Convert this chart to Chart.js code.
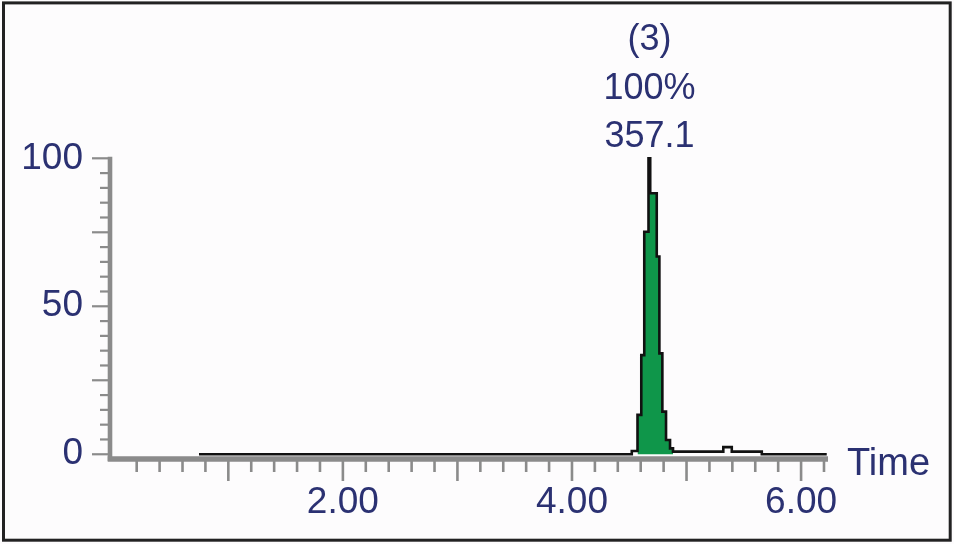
<!DOCTYPE html>
<html>
<head>
<meta charset="utf-8">
<script src="https://cdn.jsdelivr.net/npm/chart.js@4"></script>
<style>
  html, body { margin: 0; padding: 0; background: #fdfcfd; }
  canvas { display: block; }
</style>
</head>
<body>
<canvas id="c" width="954" height="544"></canvas>
<script>
// Retention time (min) at the left edge of each step of the trace
const times = [0.744, 4.522, 4.572, 4.605, 4.631, 4.668, 4.683, 4.740, 4.763, 4.789, 4.821, 4.856, 4.882, 5.321, 5.395, 5.657, 6.224];
// Relative intensity (%) held over each step
const intensity = [0, 1.1, 13.3, 33.5, 75.2, 100, 88.2, 66.8, 34.1, 14.4, 4.8, 2.0, 0.9, 2.4, 0.9, 0, 0];
// Integrated peak (filled) runs from this step index to this one
const peakFirst = 2;
const peakLast = 12;
// Peak annotation lines
const peakLabels = ['(3)', '100%', '357.1'];
// Axis ticks and labels
const yTickValues = [0, 5, 10, 15, 20, 25, 30, 35, 40, 45, 50, 55, 60, 65, 70, 75, 80, 85, 90, 95, 100];
const yLabelled = [0, 50, 100];
const xTickValues = [0.2, 0.4, 0.6, 0.8, 1.0, 1.2, 1.4, 1.6, 1.8, 2.0, 2.2, 2.4, 2.6, 2.8, 3.0, 3.2, 3.4, 3.6, 3.8, 4.0, 4.2, 4.4, 4.6, 4.8, 5.0, 5.2, 5.4, 5.6, 5.8, 6.0, 6.2];
const xLabelled = [2, 4, 6];
const xAxisTitle = 'Time';

const NAVY = '#2b3172';
const GRAY = '#8b8b8b';
const FONT = '"Liberation Sans", Arial, sans-serif';

const tracePoints = times.map((t, i) => ({ x: t, y: intensity[i] }));
const peakPoints = tracePoints.slice(peakFirst, peakLast + 1);

const decorPlugin = {
  id: 'decor',
  beforeDraw(chart) {
    const ctx = chart.ctx;
    ctx.save();
    ctx.fillStyle = '#fdfcfd';
    ctx.fillRect(0, 0, chart.width, chart.height);
    ctx.restore();
  },
  beforeDatasetsDraw(chart) {
    const { ctx, chartArea, scales } = chart;
    const x = scales.x, y = scales.y;
    ctx.save();
    ctx.strokeStyle = GRAY;
    ctx.lineCap = 'butt';
    // y tick marks
    ctx.lineWidth = 2.2;
    y.ticks.forEach(t => {
      const py = y.getPixelForValue(t.value);
      const len = (t.value % 25 === 0) ? 18 : 10;
      ctx.beginPath();
      ctx.moveTo(chartArea.left - len, py);
      ctx.lineTo(chartArea.left, py);
      ctx.stroke();
    });
    // x tick marks
    ctx.lineWidth = 2.6;
    x.ticks.forEach(t => {
      const px = x.getPixelForValue(t.value);
      const major = Math.abs(t.value - Math.round(t.value)) < 1e-6;
      const len = major ? 22 : 13;
      ctx.beginPath();
      ctx.moveTo(px, chartArea.bottom);
      ctx.lineTo(px, chartArea.bottom + len);
      ctx.stroke();
    });
    // y axis line
    ctx.lineWidth = 4.6;
    ctx.beginPath();
    ctx.moveTo(chartArea.left, y.getPixelForValue(100) - 1.5);
    ctx.lineTo(chartArea.left, chartArea.bottom + 2);
    ctx.stroke();
    // x axis line
    ctx.lineWidth = 5.6;
    ctx.beginPath();
    ctx.moveTo(chartArea.left - 2.3, chartArea.bottom);
    ctx.lineTo(chartArea.right, chartArea.bottom);
    ctx.stroke();
    ctx.restore();
  },
  afterDraw(chart) {
    const { ctx, chartArea, scales } = chart;
    const x = scales.x;
    ctx.save();
    // axis title
    ctx.fillStyle = NAVY;
    ctx.font = '38px ' + FONT;
    ctx.textAlign = 'left';
    ctx.textBaseline = 'alphabetic';
    ctx.fillText(xAxisTitle, 847, 475);
    // peak annotation
    let iMax = 0;
    intensity.forEach((v, i) => { if (v > intensity[iMax]) iMax = i; });
    const pxPeak = x.getPixelForValue(times[iMax]) + 1;
    ctx.font = '36px ' + FONT;
    ctx.textAlign = 'center';
    const baselines = [chartArea.top - 108.5, chartArea.top - 59.5, chartArea.top - 11.8];
    peakLabels.forEach((s, i) => ctx.fillText(s, pxPeak, baselines[i]));
    // outer frame
    ctx.strokeStyle = '#222222';
    ctx.lineWidth = 3;
    ctx.strokeRect(3.5, 2.9, 946.7, 537.3);
    ctx.restore();
  }
};

new Chart(document.getElementById('c'), {
  type: 'line',
  data: {
    datasets: [
      {
        label: 'trace',
        data: tracePoints,
        stepped: 'before',
        borderColor: '#111111',
        borderWidth: 2.6,
        borderJoinStyle: 'miter',
        borderCapStyle: 'butt',
        pointRadius: 0,
        fill: false,
        clip: false,
        order: 0
      },
      {
        label: 'peak',
        data: peakPoints,
        stepped: 'before',
        borderWidth: 0,
        borderColor: 'rgba(0,0,0,0)',
        backgroundColor: '#0f964a',
        pointRadius: 0,
        fill: 'origin',
        order: 1
      }
    ]
  },
  options: {
    responsive: false,
    devicePixelRatio: 1,
    animation: false,
    events: [],
    layout: { padding: { left: 0, top: 158.3, right: 126, bottom: 0 } },
    plugins: { legend: { display: false }, tooltip: { enabled: false }, title: { display: false } },
    scales: {
      x: {
        type: 'linear',
        min: -0.033,
        max: 6.235,
        grid: { display: false, drawTicks: false, tickLength: 0 },
        border: { display: false },
        afterBuildTicks: s => { s.ticks = xTickValues.map(v => ({ value: v })); },
        afterFit: s => { s.height = 85; },
        ticks: {
          autoSkip: false,
          maxRotation: 0,
          minRotation: 0,
          padding: 25,
          color: NAVY,
          font: { family: FONT, size: 37, lineHeight: 1 },
          callback: v => xLabelled.some(l => Math.abs(l - v) < 1e-6) ? v.toFixed(2) : ''
        }
      },
      y: {
        type: 'linear',
        min: -1.6,
        max: 100,
        grid: { display: false, drawTicks: false, tickLength: 0 },
        border: { display: false },
        afterBuildTicks: s => { s.ticks = yTickValues.map(v => ({ value: v })); },
        afterFit: s => { s.width = 110; },
        ticks: {
          autoSkip: false,
          padding: 27,
          color: NAVY,
          font: { family: FONT, size: 37, lineHeight: 1 },
          callback: v => yLabelled.includes(v) ? String(v) : ''
        }
      }
    }
  },
  plugins: [decorPlugin]
});
</script>
</body>
</html>
